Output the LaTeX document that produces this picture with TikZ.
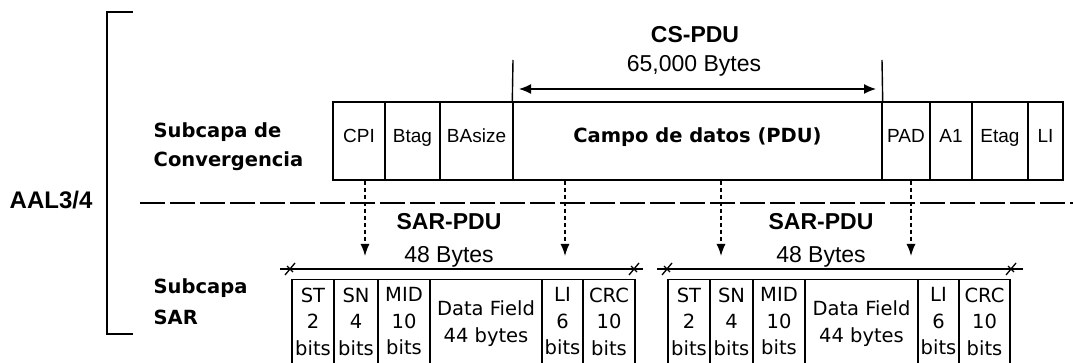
\documentclass[tikz,border=0pt]{standalone}
\usepackage{fontspec}
\setmainfont{Liberation Sans}
\newfontfamily\dvs{DejaVu Sans}
\usetikzlibrary{arrows.meta}
\begin{document}
\begin{tikzpicture}[x=1pt,y=-1pt,line width=1.4pt,
  txt/.style={inner sep=0pt,anchor=base},
  ar/.style={txt,font=\fontsize{19}{19}\selectfont},
  big/.style={txt,font=\fontsize{23}{23}\selectfont},
  bigb/.style={txt,font=\bfseries\fontsize{23}{23}\selectfont},
  layer/.style={inner sep=0pt,anchor=base west,font=\dvs\bfseries\fontsize{19.5}{19.5}\selectfont},
  fld/.style={draw,inner sep=0pt,minimum height=78pt,text height=14pt,text depth=10pt,font=\fontsize{19}{19}\selectfont},
  sarbox/.style={draw,inner sep=0pt,minimum height=92pt,anchor=north},
  sartxt/.style={inner sep=0pt,anchor=north,align=center,font=\dvs\fontsize{19.5}{26.5}\selectfont},
  dimarr/.style={{Latex[length=12pt,width=10pt]}-{Latex[length=12pt,width=10pt]}},
  darr/.style={-{Latex[length=12pt,width=9pt]},dash pattern=on 4pt off 3pt,line width=1.3pt},
  sep/.style={dash pattern=on 25pt off 5pt,line width=1.4pt},
  tk/.style={line width=1.3pt}
]
\useasboundingbox (0,0) rectangle (1073,363);

% bracket
\coordinate (bt) at (133,12);
\coordinate (bb) at (133,334);
\draw (bt) -- (107,12) -- (107,334) -- (bb);
\node[inner sep=0pt,anchor=base west,font=\bfseries\fontsize{24}{24}\selectfont] (aal) at (9,209) {AAL3/4};

% layer labels
\node[layer] (cs1) at (153,138) {Subcapa de};
\node[layer] (cs2) at (153,167) {Convergencia};
\node[layer] (sar1) at (153,294) {Subcapa};
\node[layer] (sar2) at (153,324) {SAR};

% CS-PDU fields
\node[fld,minimum width=52pt] (cpi) at (359,141) {CPI};
\node[fld,minimum width=55pt] (btag) at (412.5,141) {Btag};
\node[fld,minimum width=73pt] (basize) at (476.5,141) {BAsize};
\node[fld,minimum width=369pt,font=\dvs\bfseries\fontsize{19.5}{19.5}\selectfont] (campo) at (697.5,141) {Campo de datos (PDU)};
\node[fld,minimum width=48pt] (pad) at (906,141) {PAD};
\node[fld,minimum width=42pt] (a1) at (951,141) {A1};
\node[fld,minimum width=56pt] (etag) at (1000,141) {Etag};
\node[fld,minimum width=35pt] (li) at (1045.5,141) {LI};

% CS-PDU dimension
\coordinate (csl) at (513,60);
\coordinate (csr) at (882,60);
\draw (campo.north west) -- (csl);
\draw (campo.north east) -- (csr);
\coordinate (al) at (519,89);
\coordinate (ar) at (876,89);
\draw[dimarr] (al) -- (ar);
\node[bigb] (cspdu) at (695,43) {CS-PDU};
\node[big] (csbytes) at (694,72) {65,000 Bytes};

% separator
\coordinate (sepl) at (140,203);
\coordinate (sepr) at (1073,203);
\draw[sep] (sepl) -- (sepr);

% dashed arrows
\coordinate (d1) at (365,256);
\coordinate (d2) at (565,256);
\coordinate (d3) at (721,256);
\coordinate (d4) at (911,256);
\draw[darr] (cpi.south -| d1) -- (d1);
\draw[darr] (campo.south -| d2) -- (d2);
\draw[darr] (campo.south -| d3) -- (d3);
\draw[darr] (pad.south -| d4) -- (d4);

% SAR-PDU labels
\node[bigb] (sarpdu1) at (449,230) {SAR-PDU};
\node[big] (sarb1) at (449,262) {48 Bytes};
\node[bigb] (sarpdu2) at (821,230) {SAR-PDU};
\node[big] (sarb2) at (821,262) {48 Bytes};

% span lines
\coordinate (s1a) at (280,269);
\coordinate (s1b) at (643,269);
\coordinate (s2a) at (657,269);
\coordinate (s2b) at (1023,269);
\coordinate (t1a) at (290,269);
\coordinate (t1b) at (634,269);
\coordinate (t2a) at (667,269);
\coordinate (t2b) at (1011,269);
\draw (s1a) -- (s1b);
\draw (s2a) -- (s2b);
\foreach \t in {t1a,t1b,t2a,t2b}{
  \draw[tk] (\t) +(-5,6) -- +(5,-6);
  \draw[tk] (\t) +(-3,-3) -- +(3,3);
}

% SAR fields, left
\node[sarbox,minimum width=42pt] (lst) at (313,279) {};
\node[sarbox,minimum width=44pt] (lsn) at (356,279) {};
\node[sarbox,minimum width=52pt] (lmid) at (404,279) {};
\node[sarbox,minimum width=112pt] (ldf) at (486,279) {};
\node[sarbox,minimum width=41pt] (lli) at (562.5,279) {};
\node[sarbox,minimum width=52pt] (lcrc) at (609,279) {};
\node[sartxt] (lstt) at (313,287) {ST\\2\\bits};
\node[sartxt] (lsnt) at (356,287) {SN\\4\\bits};
\node[sartxt] (lmidt) at (404,287) {MID\\10\\bits};
\node[sartxt] (ldft) at (486,300) {Data Field\\44 bytes};
\node[sartxt] (llit) at (562.5,287) {LI\\6\\bits};
\node[sartxt] (lcrct) at (609,287) {CRC\\10\\bits};

% SAR fields, right
\node[sarbox,minimum width=42pt] (rst) at (689,279) {};
\node[sarbox,minimum width=43pt] (rsn) at (731.5,279) {};
\node[sarbox,minimum width=52pt] (rmid) at (779,279) {};
\node[sarbox,minimum width=113pt] (rdf) at (861.5,279) {};
\node[sarbox,minimum width=41pt] (rli) at (938.5,279) {};
\node[sarbox,minimum width=51pt] (rcrc) at (984.5,279) {};
\node[sartxt] (rstt) at (689,287) {ST\\2\\bits};
\node[sartxt] (rsnt) at (731.5,287) {SN\\4\\bits};
\node[sartxt] (rmidt) at (779,287) {MID\\10\\bits};
\node[sartxt] (rdft) at (861.5,300) {Data Field\\44 bytes};
\node[sartxt] (rlit) at (938.5,287) {LI\\6\\bits};
\node[sartxt] (rcrct) at (984.5,287) {CRC\\10\\bits};
\end{tikzpicture}
\end{document}
